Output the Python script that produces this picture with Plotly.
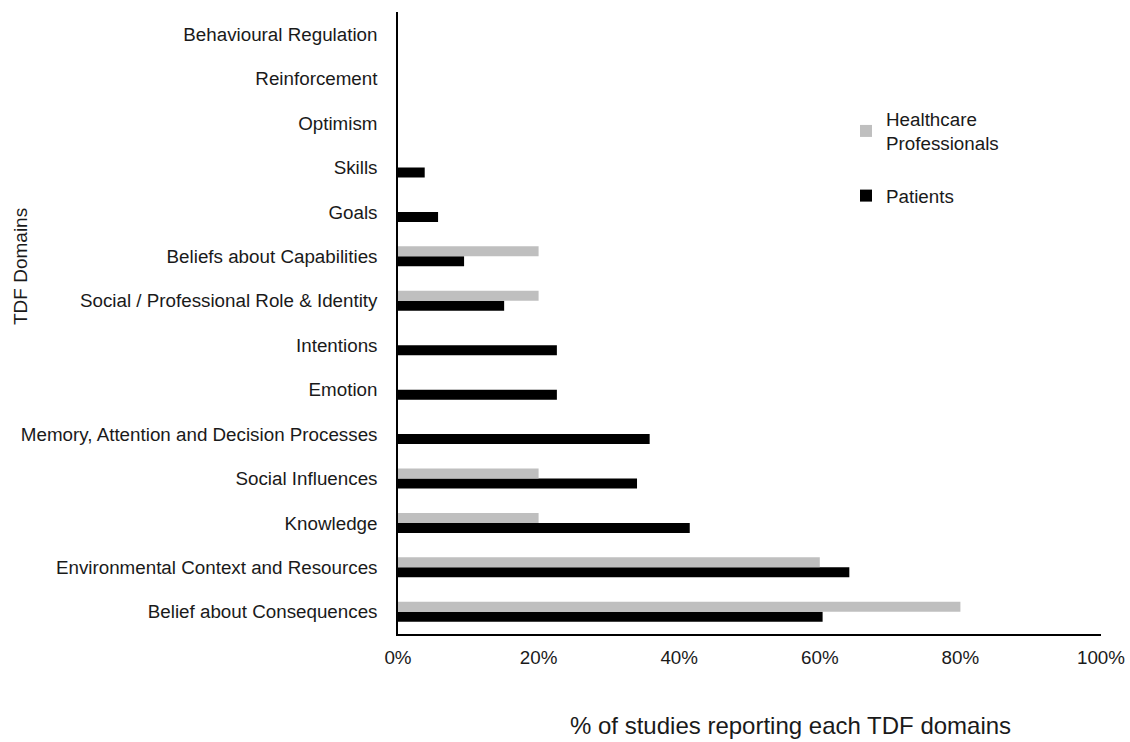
import plotly.graph_objects as go

categories = [
    "Belief about Consequences",
    "Environmental Context and Resources",
    "Knowledge",
    "Social Influences",
    "Memory, Attention and Decision Processes",
    "Emotion",
    "Intentions",
    "Social / Professional Role & Identity",
    "Beliefs about Capabilities",
    "Goals",
    "Skills",
    "Optimism",
    "Reinforcement",
    "Behavioural Regulation",
]
patients = [60.4, 64.2, 41.5, 34.0, 35.8, 22.6, 22.6, 15.1, 9.4, 5.7, 3.8, 0, 0, 0]
hcp = [80, 60, 20, 20, 0, 0, 0, 20, 20, 0, 0, 0, 0, 0]
x_ticks = [0, 20, 40, 60, 80, 100]
x_tick_labels = ["0%", "20%", "40%", "60%", "80%", "100%"]

font = "Liberation Sans, Arial, sans-serif"
FS = 18.8

W, H = 1130, 742
ML, MR, MT, MB = 398, 29, 12, 108

fig = go.Figure()
fig.add_trace(go.Bar(y=categories, x=patients, orientation="h", name="Patients",
                     legendgroup="p", legendrank=2,
                     marker=dict(color="#000000", line=dict(width=0))))
fig.add_trace(go.Bar(y=categories, x=hcp, orientation="h", name="Healthcare<br>Professionals",
                     legendgroup="h", legendrank=1,
                     marker=dict(color="#bfbfbf", line=dict(width=0))))

pw = W - ML - MR
ph = H - MT - MB
x0 = ML          # plot left in page px
y1 = MT + ph     # plot bottom in page px

def px_x(px):
    return (px - x0) / pw

def px_y(py):
    return (y1 - py) / ph

fig.update_layout(
    width=W, height=H,
    margin=dict(l=ML, r=MR, t=MT, b=MB, autoexpand=False),
    barmode="group", bargap=0.55, bargroupgap=0,
    plot_bgcolor="white", paper_bgcolor="white",
    font=dict(family=font, size=FS, color="#1a1a1a"),
    showlegend=True,
    legend=dict(x=px_x(846), y=px_y(100), xanchor="left", yanchor="top",
                traceorder="grouped",
                font=dict(size=FS), itemwidth=30, tracegroupgap=25,
                bgcolor="rgba(0,0,0,0)"),
    xaxis=dict(range=[0, 100], tickvals=x_ticks, ticktext=x_tick_labels,
               showgrid=False, zeroline=False, showline=True, linecolor="#000000",
               linewidth=1.5, ticks="", tickfont=dict(size=FS), ticklabelstandoff=6,
               ticklabeloverflow="allow"),
    yaxis=dict(showgrid=False, zeroline=False, showline=True, linecolor="#000000",
               linewidth=1.5, ticks="", tickfont=dict(size=FS), ticklabelstandoff=15,
               categoryorder="array", categoryarray=categories),
    annotations=[
        dict(text="TDF Domains", x=px_x(20), y=px_y(267),
             xref="paper", yref="paper", xanchor="center", yanchor="middle",
             showarrow=False, textangle=-90, font=dict(size=19)),
        dict(text="% of studies reporting each TDF domains", x=px_x(790), y=px_y(725),
             xref="paper", yref="paper", xanchor="center", yanchor="middle",
             showarrow=False, font=dict(size=24)),
    ],
)

fig.write_html(
    "out.html",
    config={"displayModeBar": False},
    post_script="document.body.style.margin='0';document.body.style.overflow='hidden';",
)
